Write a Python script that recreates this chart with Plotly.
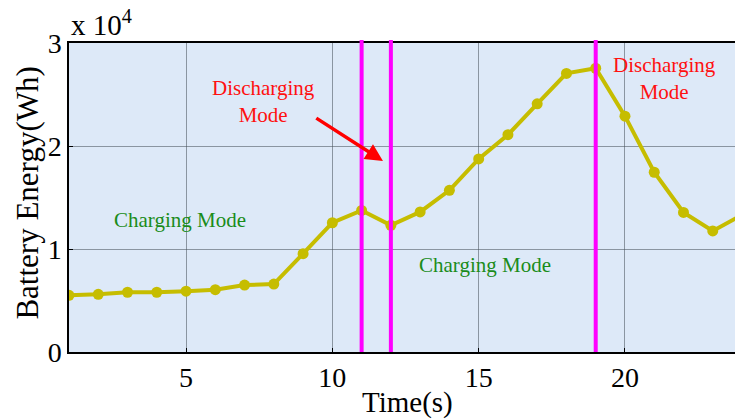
import plotly.graph_objects as go

time_s = list(range(1, 25))
battery_wh = [5500, 5600, 5800, 5800, 5900, 6050, 6500, 6600, 9550, 12550,
              13750, 12300, 13600, 15700, 18750, 21100, 24100, 27050, 27550,
              22900, 17450, 13550, 11750, 13300]
mode_switch_times = [11, 12, 19]
y_tick_vals = [0, 10000, 20000, 30000]
y_tick_text = ["0", "1", "2", "3"]
x_tick_vals = [5, 10, 15, 20]

FONT = "Liberation Serif, Times New Roman, serif"

fig = go.Figure()
fig.add_trace(go.Scatter(
    x=time_s, y=battery_wh, mode="lines+markers",
    line=dict(color="#c6bd00", width=4),
    marker=dict(color="#c6bd00", size=11),
    showlegend=False, cliponaxis=True,
))

for t in mode_switch_times:
    fig.add_shape(type="line", xref="x", yref="paper", x0=t, x1=t, y0=0, y1=1.01,
                  line=dict(color="#ff00ff", width=4))

fig.add_annotation(x=4.8, y=12800, text="Charging Mode", showarrow=False,
                   font=dict(family=FONT, size=21, color="#1a8c1a"))
fig.add_annotation(x=15.2, y=8450, text="Charging Mode", showarrow=False,
                   font=dict(family=FONT, size=21, color="#1a8c1a"))
fig.add_annotation(x=7.63, y=24300, text="Discharging<br>Mode", showarrow=False,
                   font=dict(family=FONT, size=21, color="#ff1010"))
fig.add_annotation(x=21.36, y=26600, text="Discharging<br>Mode", showarrow=False,
                   font=dict(family=FONT, size=21, color="#ff1010"))
fig.add_annotation(x=11.73, y=18540, ax=9.4, ay=22800, axref="x", ayref="y",
                   xref="x", yref="y", text="", showarrow=True,
                   arrowhead=2, arrowsize=1, arrowwidth=3.5, arrowcolor="#ff0000")

# titles
fig.add_annotation(xref="paper", yref="paper", x=-0.062, y=0.515, text="Battery Energy(Wh)",
                   textangle=-90, showarrow=False, xanchor="center", yanchor="middle",
                   font=dict(family=FONT, size=31, color="black"))
fig.add_annotation(xref="paper", yref="paper", x=0.509, y=-0.165, text="Time(s)",
                   showarrow=False, xanchor="center", yanchor="middle",
                   font=dict(family=FONT, size=29, color="black"))
fig.add_annotation(xref="paper", yref="paper", x=0.0, y=1.0, text="x 10<sup>4</sup>",
                   showarrow=False, xanchor="left", yanchor="bottom",
                   font=dict(family=FONT, size=29, color="black"))

fig.update_layout(
    width=735, height=419,
    margin=dict(l=69, r=0, t=43, b=67),
    paper_bgcolor="white", plot_bgcolor="#dde9f8",
    font=dict(family=FONT, size=28, color="black"),
    xaxis=dict(range=[1, 23.76], tickvals=x_tick_vals, ticks="inside", ticklen=4,
               tickcolor="black", showgrid=True, gridcolor="rgba(70,80,90,0.55)",
               gridwidth=1, zeroline=False, showline=True, linecolor="black",
               linewidth=1.5, mirror=True, tickfont=dict(size=28), automargin=False),
    yaxis=dict(range=[0, 30000], tickvals=y_tick_vals, ticktext=y_tick_text,
               ticks="inside", ticklen=4, tickcolor="black", showgrid=True,
               gridcolor="rgba(70,80,90,0.55)", gridwidth=1, zeroline=False,
               showline=True, linecolor="black", linewidth=1.5,
               tickfont=dict(size=28), automargin=False),
)

fig.write_html(
    "out.html",
    config={"displayModeBar": False},
    post_script="document.body.style.margin='0';document.body.style.overflow='hidden';",
)
